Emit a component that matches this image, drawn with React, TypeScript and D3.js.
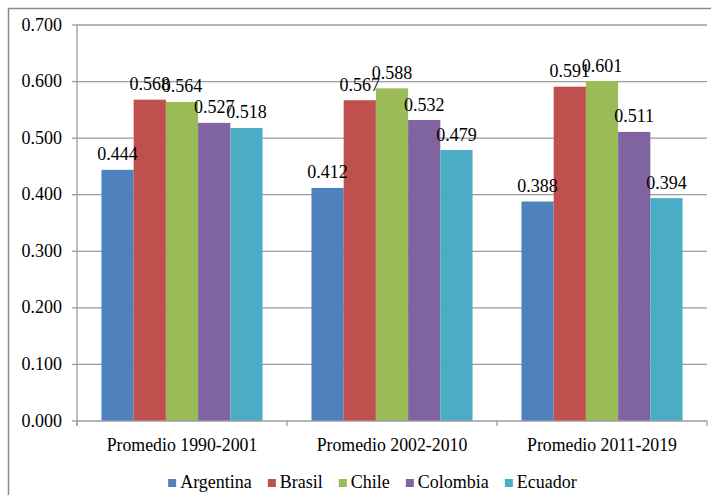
import React, { useEffect, useRef } from "react";
import * as d3 from "d3";

const periods = ["Promedio 1990-2001", "Promedio 2002-2010", "Promedio 2011-2019"];
const countries = ["Argentina", "Brasil", "Chile", "Colombia", "Ecuador"];
const colors = ["#4F81BD", "#C0504D", "#9BBB59", "#8064A2", "#4BACC6"];
const argentina = [0.444, 0.412, 0.388];
const brasil = [0.568, 0.567, 0.591];
const chile = [0.564, 0.588, 0.601];
const colombia = [0.527, 0.532, 0.511];
const ecuador = [0.518, 0.479, 0.394];
const yTicks = [0, 0.1, 0.2, 0.3, 0.4, 0.5, 0.6, 0.7];

const seriesValues = [argentina, brasil, chile, colombia, ecuador];

const W = 711;
const H = 495;
const FONT = "Liberation Serif, Tinos, Times New Roman, DejaVu Serif, serif";

export default function App() {
  const ref = useRef<SVGSVGElement | null>(null);

  useEffect(() => {
    const svg = d3.select(ref.current);
    svg.selectAll("*").remove();

    const left = 77, right = 707, top = 25, bottom = 421;
    const x0 = d3.scaleBand<string>().domain(periods).range([left, right]);
    const bw = x0.bandwidth();
    const x1 = d3.scaleBand<string>().domain(countries).range([bw * 0.1165, bw * 0.8835]);
    const y = d3.scaleLinear().domain([0, 0.7]).range([bottom, top]);
    const grid = "#9c9c9c";

    svg.append("rect").attr("x", 8.5).attr("y", 8.5).attr("width", 760).attr("height", 560)
      .attr("fill", "white").attr("stroke", "#8a8a8a").attr("stroke-width", 1.5);

    svg.append("g").selectAll("line").data(yTicks.filter(t => t > 0)).join("line")
      .attr("x1", left).attr("x2", right)
      .attr("y1", d => y(d)).attr("y2", d => y(d))
      .attr("stroke", grid).attr("stroke-width", 1.3);

    svg.append("line").attr("x1", left).attr("x2", left).attr("y1", top).attr("y2", bottom + 5)
      .attr("stroke", grid).attr("stroke-width", 1.3);
    svg.append("g").selectAll("line").data(yTicks).join("line")
      .attr("x1", left - 5).attr("x2", left)
      .attr("y1", d => y(d)).attr("y2", d => y(d))
      .attr("stroke", grid).attr("stroke-width", 1.3);
    svg.append("g").selectAll("text").data(yTicks).join("text")
      .attr("x", 62).attr("y", d => y(d) + 5.5)
      .attr("text-anchor", "end")
      .style("font-family", FONT).attr("font-size", 18).attr("fill", "#000")
      .text(d => d3.format(".3f")(d));

    const gGroups = svg.append("g").selectAll("g").data(periods).join("g")
      .attr("transform", p => `translate(${x0(p)},0)`);
    gGroups.selectAll("rect").data((p, pi) => countries.map((c, ci) => ({ c, ci, v: seriesValues[ci][pi] })))
      .join("rect")
      .attr("x", d => x1(d.c)!).attr("width", x1.bandwidth())
      .attr("y", d => y(d.v)).attr("height", d => y(0) - y(d.v))
      .attr("fill", d => colors[d.ci]);
    gGroups.selectAll("text").data((p, pi) => countries.map((c, ci) => ({ c, ci, v: seriesValues[ci][pi] })))
      .join("text")
      .attr("x", d => x1(d.c)! + x1.bandwidth() / 2)
      .attr("y", d => y(d.v) - 9.5)
      .attr("text-anchor", "middle")
      .style("font-family", FONT).attr("font-size", 18).attr("fill", "#000")
      .text(d => d3.format(".3f")(d.v));

    svg.append("line").attr("x1", left).attr("x2", right).attr("y1", bottom).attr("y2", bottom)
      .attr("stroke", grid).attr("stroke-width", 1.3);
    const bounds = [...periods.map(p => x0(p)!), right];
    svg.append("g").selectAll("line").data(bounds).join("line")
      .attr("x1", d => d).attr("x2", d => d).attr("y1", bottom).attr("y2", bottom + 5)
      .attr("stroke", grid).attr("stroke-width", 1.3);
    svg.append("g").selectAll("text").data(periods).join("text")
      .attr("x", p => x0(p)! + bw / 2).attr("y", 451)
      .attr("text-anchor", "middle")
      .style("font-family", FONT).attr("font-size", 17.8).attr("fill", "#000")
      .text(p => p);

    const lg = svg.append("g");
    const items = lg.selectAll("g").data(countries).join("g");
    items.append("rect").attr("x", 0).attr("y", 479).attr("width", 8).attr("height", 8)
      .attr("fill", (d, i) => colors[i]);
    items.append("text").attr("x", 12).attr("y", 488)
      .style("font-family", FONT).attr("font-size", 18).attr("fill", "#000")
      .text(d => d);
    let cx = 0;
    const gap = 16;
    const offsets: number[] = [];
    items.each(function () {
      const t = d3.select(this).select("text").node() as SVGTextElement;
      offsets.push(cx);
      cx += 12 + t.getComputedTextLength() + gap;
    });
    const total = cx - gap;
    const start = 372.5 - total / 2;
    items.attr("transform", (d, i) => `translate(${start + offsets[i]},0)`);
  }, []);

  return (
    <svg ref={ref} width={W} height={H}
      style={{ position: "absolute", left: 0, top: 0, background: "white" }} />
  );
}
